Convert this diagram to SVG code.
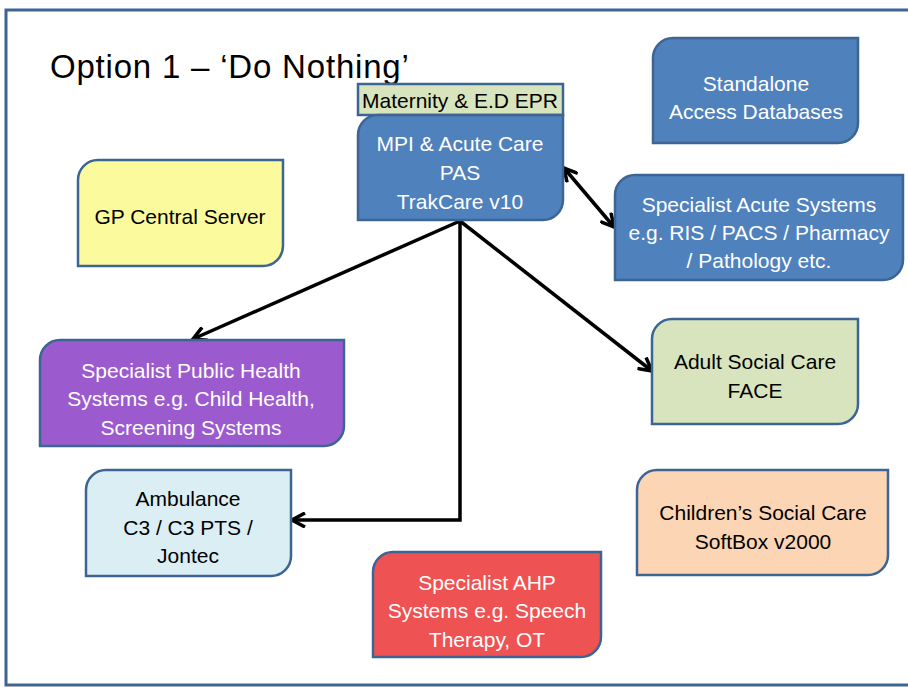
<svg xmlns="http://www.w3.org/2000/svg" width="908" height="687" viewBox="0 0 908 687">
<style>
.box{stroke:#3d6594;stroke-width:2.5}
.t{font-family:"Liberation Sans",Arial,sans-serif;font-size:21px;text-anchor:middle}
.w{fill:#ffffff}
.k{fill:#000000}
.conn{fill:none;stroke:#000;stroke-width:3.5}
</style>
<defs>
<marker id="ah" viewBox="0 0 16 16" refX="14" refY="8" markerWidth="16" markerHeight="16" markerUnits="userSpaceOnUse" orient="auto-start-reverse">
<path d="M1,1 L14,8 L1,15" fill="none" stroke="#000" stroke-width="3.5" stroke-linejoin="miter"/>
</marker>
</defs>
<rect x="0" y="0" width="908" height="687" fill="#ffffff"/>
<rect x="6" y="10" width="920" height="675" fill="none" stroke="#3d6594" stroke-width="3"/>
<text x="50" y="78" font-family="Liberation Sans,Arial,sans-serif" font-size="33" letter-spacing="0.8" fill="#000">Option 1 – ‘Do Nothing’</text>

<g id="connectors">
<line class="conn" x1="460" y1="221" x2="193" y2="339" marker-end="url(#ah)"/>
<line class="conn" x1="460" y1="221" x2="652" y2="371" marker-end="url(#ah)"/>
<polyline class="conn" points="460,221 460,520 292,520" marker-end="url(#ah)"/>
<line class="conn" x1="564" y1="168" x2="614" y2="227" marker-start="url(#ah)" marker-end="url(#ah)"/>
</g>

<g id="maternity">
<rect class="box" x="358" y="84" width="205" height="31" fill="#d7e4bd"/>
<text class="t k" x="460" y="108" font-size="17">Maternity &amp; E.D EPR</text>
</g>
<g id="mpi">
<path class="box" fill="#4f81bd" d="M378,115 H563 V200 A20,20 0 0 1 543,220 H358 V135 A20,20 0 0 1 378,115 Z"/>
<text class="t w" x="460" y="151">MPI &amp; Acute Care</text>
<text class="t w" x="460" y="180">PAS</text>
<text class="t w" x="460" y="209">TrakCare v10</text>
</g>
<g id="standalone">
<path class="box" fill="#4f81bd" d="M673,38 H858 V123 A20,20 0 0 1 838,143 H653 V58 A20,20 0 0 1 673,38 Z"/>
<text class="t w" x="756" y="91">Standalone</text>
<text class="t w" x="756" y="119">Access Databases</text>
</g>
<g id="gp">
<path class="box" fill="#fbfb9e" d="M98,160 H283 V246 A20,20 0 0 1 263,266 H78 V180 A20,20 0 0 1 98,160 Z"/>
<text class="t k" x="180" y="224">GP Central Server</text>
</g>
<g id="acute">
<path class="box" fill="#4f81bd" d="M635,175 H903 V260 A20,20 0 0 1 883,280 H615 V195 A20,20 0 0 1 635,175 Z"/>
<text class="t w" x="759" y="212">Specialist Acute Systems</text>
<text class="t w" x="759" y="240">e.g. RIS / PACS / Pharmacy</text>
<text class="t w" x="759" y="268">/ Pathology etc.</text>
</g>
<g id="publichealth">
<path class="box" fill="#9b5bce" d="M60,340 H344 V426 A20,20 0 0 1 324,446 H40 V360 A20,20 0 0 1 60,340 Z"/>
<text class="t w" x="191" y="378">Specialist Public Health</text>
<text class="t w" x="191" y="406">Systems e.g. Child Health,</text>
<text class="t w" x="191" y="435">Screening Systems</text>
</g>
<g id="adultsocial">
<path class="box" fill="#d7e4bd" d="M672,319 H858 V404 A20,20 0 0 1 838,424 H652 V339 A20,20 0 0 1 672,319 Z"/>
<text class="t k" x="755" y="369">Adult Social Care</text>
<text class="t k" x="755" y="398">FACE</text>
</g>
<g id="ambulance">
<path class="box" fill="#dbeef4" d="M106,470 H291 V556 A20,20 0 0 1 271,576 H86 V490 A20,20 0 0 1 106,470 Z"/>
<text class="t k" x="188" y="506">Ambulance</text>
<text class="t k" x="188" y="535">C3 / C3 PTS /</text>
<text class="t k" x="188" y="563">Jontec</text>
</g>
<g id="childrens">
<path class="box" fill="#fcd5b5" d="M657,470 H888 V555 A20,20 0 0 1 868,575 H637 V490 A20,20 0 0 1 657,470 Z"/>
<text class="t k" x="763" y="520">Children’s Social Care</text>
<text class="t k" x="763" y="549">SoftBox v2000</text>
</g>
<g id="ahp">
<path class="box" fill="#ef5252" d="M393,552 H601 V637 A20,20 0 0 1 581,657 H373 V572 A20,20 0 0 1 393,552 Z"/>
<text class="t w" x="487" y="590">Specialist AHP</text>
<text class="t w" x="487" y="618">Systems e.g. Speech</text>
<text class="t w" x="487" y="647">Therapy, OT</text>
</g>
</svg>
